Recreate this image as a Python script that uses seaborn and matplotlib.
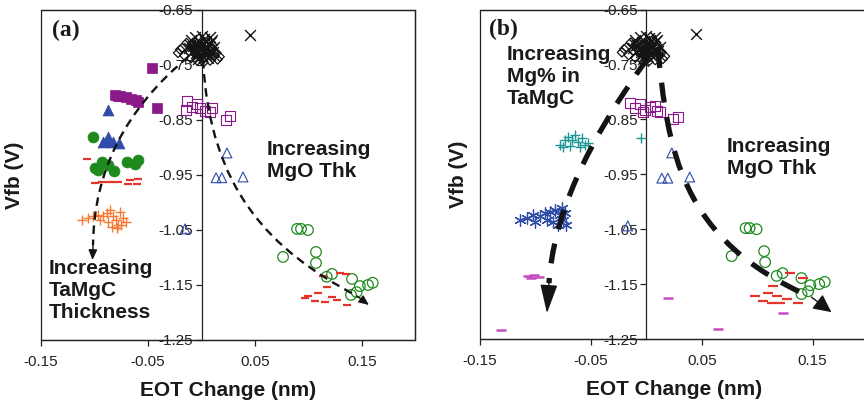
import matplotlib
matplotlib.use("Agg")
import matplotlib.pyplot as plt
import seaborn as sns
from matplotlib.path import Path
from matplotlib.patches import PathPatch, Rectangle

sns.set_theme(style="white")
plt.rcParams["font.family"] = ["Liberation Sans", "DejaVu Sans"]
plt.rcParams["axes.unicode_minus"] = False

# ---------------- data ----------------
x_ticks = [-0.15, -0.05, 0.05, 0.15]
x_tick_labels = ["-0.15", "-0.05", "0.05", "0.15"]
y_ticks = [-1.25, -1.15, -1.05, -0.95, -0.85, -0.75, -0.65]
y_tick_labels = ["-1.25", "-1.15", "-1.05", "-0.95", "-0.85", "-0.75", "-0.65"]

# black cluster (shared)
blk_dia_x = [-0.022, -0.020, -0.018, -0.012, -0.009, -0.006, -0.003, 0.000, 0.003, 0.006,
             0.009, 0.012, 0.015, 0.017, -0.016, -0.010, -0.004, 0.002, 0.008, 0.014,
             -0.014, -0.007, 0.001, 0.005, 0.011]
blk_dia_y = [-0.728, -0.722, -0.719, -0.725, -0.712, -0.730, -0.718, -0.722, -0.735, -0.728,
             -0.720, -0.733, -0.740, -0.735, -0.733, -0.738, -0.742, -0.745, -0.742, -0.728,
             -0.710, -0.724, -0.728, -0.715, -0.726]
blk_x_x = [-0.010, -0.006, -0.002, 0.002, 0.006, 0.010, -0.008, -0.004, 0.000, 0.004,
           0.008, 0.012, -0.012, -0.003, 0.003, 0.009, 0.005, -0.001, 0.045,
           -0.007, -0.005, -0.001, 0.001, 0.004, 0.007, -0.009, -0.002, 0.006, 0.002,
           -0.004, 0.000, 0.003, -0.006, 0.008, -0.011, 0.011, -0.003, 0.005]
blk_x_y = [-0.705, -0.700, -0.708, -0.702, -0.712, -0.705, -0.715, -0.710, -0.698, -0.715,
           -0.700, -0.718, -0.720, -0.725, -0.722, -0.708, -0.730, -0.715, -0.695,
           -0.722, -0.728, -0.720, -0.726, -0.732, -0.724, -0.727, -0.735, -0.737, -0.712,
           -0.718, -0.731, -0.706, -0.734, -0.731, -0.713, -0.726, -0.740, -0.718]

# panel (a)
a_sqf_x = [-0.046, -0.081, -0.078, -0.076, -0.071, -0.066, -0.061, -0.059, -0.042]
a_sqf_y = [-0.755, -0.805, -0.806, -0.807, -0.809, -0.812, -0.814, -0.817, -0.828]
a_sqo_x = [-0.0136, -0.0145, -0.0089, -0.0042, -0.0014, 0.0033, 0.0079, 0.0098, 0.0229, 0.0266]
a_sqo_y = [-0.8155, -0.832, -0.8264, -0.821, -0.828, -0.8336, -0.8355, -0.829, -0.850, -0.8427]
a_trf_x = [-0.087, -0.087, -0.092, -0.083, -0.077, -0.088]
a_trf_y = [-0.832, -0.881, -0.890, -0.890, -0.892, -0.888]
a_cif_x = [-0.101, -0.0995, -0.093, -0.087, -0.082, -0.070, -0.062, -0.059, -0.097]
a_cif_y = [-0.881, -0.937, -0.926, -0.932, -0.943, -0.926, -0.930, -0.923, -0.941]
a_redL_x = [-0.107, -0.100, -0.093, -0.086, -0.078, -0.069, -0.060, -0.067, -0.059]
a_redL_y = [-0.921, -0.965, -0.963, -0.963, -0.962, -0.966, -0.966, -0.959, -0.958]
a_plus_x = [-0.1117, -0.106, -0.1014, -0.0967, -0.092, -0.0883, -0.0855, -0.0827, -0.0799,
            -0.078, -0.0762, -0.0734, -0.0706, -0.0874, -0.0836, -0.079, -0.0752, -0.0949]
a_plus_y = [-1.032, -1.028, -1.0245, -1.023, -1.0245, -1.019, -1.0136, -1.0245, -1.032,
            -1.041, -1.0173, -1.028, -1.0355, -1.0355, -1.0445, -1.0464, -1.041, -1.032]
a_tro_x = [0.0238, 0.0136, 0.019, 0.0388, -0.0154]
a_tro_y = [-0.910, -0.955, -0.955, -0.9536, -1.048]
a_cio_x = [0.0893, 0.093, 0.0995, 0.0762, 0.107, 0.107, 0.117, 0.122, 0.1407, 0.148,
           0.1556, 0.160, 0.145, 0.1397]
a_cio_y = [-1.048, -1.048, -1.050, -1.099, -1.090, -1.110, -1.135, -1.130, -1.139, -1.152,
           -1.150, -1.146, -1.163, -1.168]
a_redR_x = [0.1136, 0.129, 0.135, 0.117, 0.109, 0.0995, 0.122, 0.106, 0.115, 0.136, 0.0967, 0.1266]
a_redR_y = [-1.1336, -1.128, -1.130, -1.154, -1.165, -1.170, -1.172, -1.179, -1.181, -1.186, -1.174, -1.177]

# panel (b)
b_sqo_x = [-0.0149, -0.0104, -0.0059, -0.0014, 0.0032, 0.0077, 0.0122, -0.0032, 0.0095, 0.0239, 0.0284]
b_sqo_y = [-0.820, -0.829, -0.822, -0.833, -0.828, -0.826, -0.837, -0.837, -0.835, -0.849, -0.846]
b_teal_x = [-0.0779, -0.0734, -0.0707, -0.0671, -0.0644, -0.0617, -0.0581, -0.0554, -0.0527,
            -0.0689, -0.0599, -0.0752, -0.005]
b_teal_y = [-0.897, -0.888, -0.882, -0.888, -0.879, -0.891, -0.884, -0.897, -0.893,
            -0.899, -0.900, -0.900, -0.884]
b_ast_x = [-0.114, -0.1077, -0.1023, -0.096, -0.0914, -0.0869, -0.0824, -0.0779, -0.0752,
           -0.0725, -0.0797, -0.0842, -0.0896, -0.1005, -0.0761, -0.0734]
b_ast_y = [-1.0334, -1.0298, -1.0243, -1.0261, -1.0207, -1.0189, -1.0152, -1.0243, -1.0334,
           -1.0425, -1.0425, -1.037, -1.0334, -1.037, -1.0116, -1.0207]
b_mag_x = [-0.1068, -0.1014, -0.0968, -0.104, -0.131, 0.0194, 0.0644, 0.123]
b_mag_y = [-1.135, -1.1336, -1.137, -1.139, -1.2338, -1.1755, -1.232, -1.203]
b_tro_x = [0.023, 0.014, 0.0194, 0.0392, -0.0167]
b_tro_y = [-0.911, -0.957, -0.957, -0.955, -1.044]
b_cio_x = [0.0896, 0.0932, 0.0995, 0.077, 0.1063, 0.1072, 0.1176, 0.123, 0.140, 0.148,
           0.156, 0.161, 0.146, 0.140]
b_cio_y = [-1.048, -1.048, -1.050, -1.099, -1.090, -1.110, -1.135, -1.130, -1.139, -1.152,
           -1.150, -1.146, -1.163, -1.168]
b_red_x = [0.1293, 0.141, 0.114, 0.1095, 0.0977, 0.1176, 0.105, 0.113, 0.1203, 0.1266, 0.137]
b_red_y = [-1.130, -1.139, -1.154, -1.167, -1.172, -1.172, -1.181, -1.185, -1.185, -1.177, -1.185]

# colours
BLACK = "#141414"
PURPLE = "#8A1A8A"
BLUE = "#2F4CA8"
GREEN = "#1E8A1E"
RED = "#E5352B"
ORANGE = "#F47A36"
TEAL = "#1C9696"
MAGENTA = "#C44CBE"

# ---------------- figure ----------------
fig = plt.figure(figsize=(8.64, 4.08), dpi=100)
axA = fig.add_axes([0.0475, 0.1667, 0.4334, 0.8088])
axB = fig.add_axes([0.5556, 0.169, 0.449, 0.8076])


def pts(ax, xs, ys, marker, color, s, hollow=False, lw=0.8):
    if hollow:
        sns.scatterplot(x=xs, y=ys, marker=marker, s=s, facecolor="none",
                        edgecolor=color, linewidth=lw, ax=ax, zorder=3)
    else:
        sns.scatterplot(x=xs, y=ys, marker=marker, s=s, color=color,
                        edgecolor=color, linewidth=lw, ax=ax, zorder=3)


def style(ax, ylab_x):
    ax.set_xlim(-0.15, 0.2)
    ax.set_ylim(-1.25, -0.65)
    ax.spines["left"].set_position(("data", 0))
    for sp in ax.spines.values():
        sp.set_color("#222222")
        sp.set_linewidth(0.9)
    ax.add_patch(Rectangle((0, 0), 1, 1, transform=ax.transAxes, fill=False,
                           lw=0.9, ec="#222222", zorder=6, clip_on=False))
    ax.set_xticks(x_ticks)
    ax.set_xticklabels(x_tick_labels)
    ax.set_yticks(y_ticks)
    ax.set_yticklabels(y_tick_labels)
    ax.tick_params(axis="x", bottom=True, direction="out", length=4, width=0.9,
                   labelsize=11, colors="#222222", pad=7)
    ax.tick_params(axis="y", left=True, direction="out", length=4.5, width=0.9,
                   labelsize=11, colors="#222222", pad=1.5)
    ax.set_xlabel("EOT Change (nm)", fontsize=15, fontweight="bold", color="#1a1a1a")
    ax.set_ylabel("Vfb (V)", fontsize=15, fontweight="bold", color="#1a1a1a")
    ax.xaxis.set_label_coords(0.5, -0.125)
    ax.yaxis.set_label_coords(ylab_x, 0.5)
    ax.grid(False)
    ax.set_facecolor("white")


def curve(ax, verts, lw, dash):
    codes = [Path.MOVETO] + [Path.CURVE3 if len(verts) == 3 else Path.CURVE4] * (len(verts) - 1)
    ax.add_patch(PathPatch(Path(verts, codes), fill=False, lw=lw, ec=BLACK,
                           ls=(0, dash), capstyle="butt", zorder=4))


def head(ax, start, tip, hl, hw):
    ax.annotate("", xy=tip, xytext=start,
                arrowprops=dict(arrowstyle=f"-|>,head_length={hl},head_width={hw}",
                                mutation_scale=1, lw=1.0, color=BLACK,
                                shrinkA=0, shrinkB=0), zorder=4)


# ---------- panel (a) ----------
ax = axA
pts(ax, blk_dia_x, blk_dia_y, "D", BLACK, 22, hollow=True, lw=0.9)
pts(ax, blk_x_x, blk_x_y, "x", BLACK, 60, lw=1.0)
pts(ax, a_sqf_x, a_sqf_y, "s", PURPLE, 52, lw=0.5)
pts(ax, a_sqo_x, a_sqo_y, "s", PURPLE, 52, hollow=True, lw=0.8)
pts(ax, a_trf_x, a_trf_y, "^", BLUE, 62, lw=0.5)
pts(ax, a_cif_x, a_cif_y, "o", GREEN, 62, lw=0.5)
pts(ax, a_redL_x, a_redL_y, "_", RED, 30, lw=1.6)
pts(ax, a_plus_x, a_plus_y, "+", ORANGE, 55, lw=1.0)
pts(ax, a_tro_x, a_tro_y, "^", BLUE, 50, hollow=True, lw=0.8)
pts(ax, a_cio_x, a_cio_y, "o", GREEN, 58, hollow=True, lw=0.9)
pts(ax, a_redR_x, a_redR_y, "_", RED, 30, lw=1.6)
style(ax, -0.045)

curve(ax, [(-0.0126, -0.7355), (-0.1005, -0.8773), (-0.1014, -1.0773)], 1.7, (3.6, 2.4))
head(ax, (-0.1014, -1.0773), (-0.1019, -1.1045), 6, 2.6)
curve(ax, [(0.0014, -0.7409), (0.0079, -0.9773), (0.064, -1.0864), (0.1453, -1.17)], 1.7, (3.6, 2.4))
head(ax, (0.1453, -1.17), (0.1565, -1.1864), 6, 2.6)

ax.text(0.0294, 0.939, "(a)", transform=ax.transAxes, fontsize=17, fontweight="bold",
        family=["Liberation Serif", "DejaVu Serif"], va="center", ha="left", color="#1a1a1a")
ax.text(0.0214, 0.245, "Increasing\nTaMgC\nThickness", transform=ax.transAxes, fontsize=15,
        fontweight="bold", va="top", ha="left", color="#1a1a1a", linespacing=1.2)
ax.text(0.6035, 0.606, "Increasing\nMgO Thk", transform=ax.transAxes, fontsize=15,
        fontweight="bold", va="top", ha="left", color="#1a1a1a", linespacing=1.2)

# ---------- panel (b) ----------
ax = axB
pts(ax, blk_dia_x, blk_dia_y, "D", BLACK, 22, hollow=True, lw=0.9)
pts(ax, blk_x_x, blk_x_y, "x", BLACK, 60, lw=1.0)
pts(ax, b_sqo_x, b_sqo_y, "s", PURPLE, 52, hollow=True, lw=0.8)
pts(ax, b_teal_x, b_teal_y, "+", TEAL, 55, lw=1.0)
pts(ax, b_ast_x, b_ast_y, (6, 2, 0), BLUE, 70, lw=0.9)
pts(ax, b_mag_x, b_mag_y, "_", MAGENTA, 55, lw=1.8)
pts(ax, b_tro_x, b_tro_y, "^", BLUE, 50, hollow=True, lw=0.8)
pts(ax, b_cio_x, b_cio_y, "o", GREEN, 58, hollow=True, lw=0.9)
pts(ax, b_red_x, b_red_y, "_", RED, 45, lw=1.6)
style(ax, -0.031)

curve(ax, [(0.0014, -0.7384), (-0.0824, -0.9697), (-0.0878, -1.1482)], 3.8, (3.8, 2.8))
head(ax, (-0.0878, -1.1482), (-0.0896, -1.2028), 18, 5.4)
curve(ax, [(0.0104, -0.7201), (0.0194, -0.906), (0.0302, -1.0699), (0.149, -1.1737)], 3.8, (3.8, 2.8))
head(ax, (0.149, -1.1737), (0.167, -1.201), 11, 5.4)

ax.text(0.023, 0.941, "(b)", transform=ax.transAxes, fontsize=17, fontweight="bold",
        family=["Liberation Serif", "DejaVu Serif"], va="center", ha="left", color="#1a1a1a")
ax.text(0.0696, 0.892, "Increasing\nMg% in\nTaMgC", transform=ax.transAxes, fontsize=15,
        fontweight="bold", va="top", ha="left", color="#1a1a1a", linespacing=1.2)
ax.text(0.6366, 0.613, "Increasing\nMgO Thk", transform=ax.transAxes, fontsize=15,
        fontweight="bold", va="top", ha="left", color="#1a1a1a", linespacing=1.2)

fig.savefig("out.png", dpi=100, facecolor="white")
